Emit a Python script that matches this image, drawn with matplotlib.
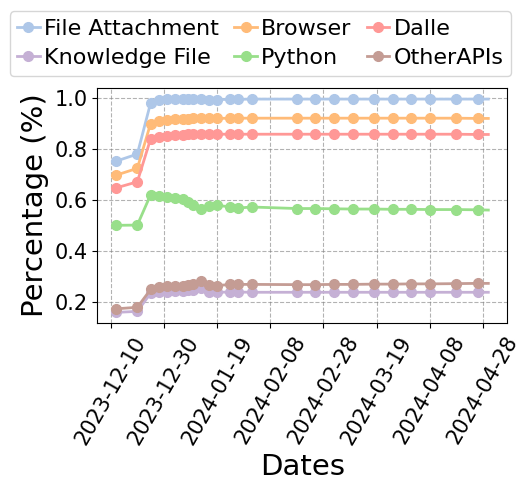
import matplotlib
matplotlib.use("Agg")
import matplotlib.pyplot as plt
import matplotlib.dates as mdates
import pandas as pd

dates = pd.to_datetime([
    "2023-12-12", "2023-12-20", "2023-12-25", "2023-12-28", "2023-12-31",
    "2024-01-03", "2024-01-06", "2024-01-08", "2024-01-10", "2024-01-13",
    "2024-01-16", "2024-01-19", "2024-01-24", "2024-01-27", "2024-02-01",
    "2024-02-18", "2024-02-25", "2024-03-03", "2024-03-10", "2024-03-18",
    "2024-03-25", "2024-04-01", "2024-04-08", "2024-04-18", "2024-04-26",
    "2024-04-30",
])

file_attachment = [0.752, 0.780, 0.981, 0.992, 0.997, 0.998, 0.998, 0.998, 0.997, 0.996,
                   0.993, 0.994, 0.995, 0.995, 0.996, 0.996, 0.996, 0.996, 0.996, 0.996,
                   0.996, 0.996, 0.996, 0.996, 0.996, 0.996]
browser = [0.697, 0.724, 0.900, 0.910, 0.914, 0.917, 0.918, 0.919, 0.920, 0.921,
           0.920, 0.920, 0.921, 0.921, 0.921, 0.921, 0.921, 0.921, 0.921, 0.921,
           0.921, 0.921, 0.921, 0.921, 0.920, 0.920]
dalle = [0.647, 0.671, 0.840, 0.848, 0.852, 0.855, 0.856, 0.857, 0.858, 0.858,
         0.858, 0.858, 0.858, 0.858, 0.858, 0.858, 0.858, 0.858, 0.858, 0.858,
         0.858, 0.858, 0.858, 0.858, 0.857, 0.857]
knowledge_file = [0.158, 0.162, 0.233, 0.238, 0.240, 0.242, 0.243, 0.245, 0.247, 0.252,
                  0.238, 0.237, 0.238, 0.238, 0.237, 0.237, 0.237, 0.237, 0.237, 0.237,
                  0.237, 0.237, 0.237, 0.237, 0.237, 0.237]
python = [0.500, 0.501, 0.620, 0.614, 0.612, 0.608, 0.605, 0.592, 0.579, 0.563,
          0.576, 0.579, 0.572, 0.568, 0.572, 0.566, 0.566, 0.565, 0.564, 0.564,
          0.563, 0.563, 0.562, 0.562, 0.561, 0.560]
other_apis = [0.172, 0.178, 0.248, 0.256, 0.260, 0.262, 0.263, 0.265, 0.270, 0.280,
              0.264, 0.263, 0.268, 0.268, 0.268, 0.267, 0.267, 0.268, 0.268, 0.269,
              0.269, 0.270, 0.270, 0.271, 0.272, 0.272]

series = {
    "File Attachment": file_attachment,
    "Browser": browser,
    "Dalle": dalle,
    "Knowledge File": knowledge_file,
    "Python": python,
    "OtherAPIs": other_apis,
}
colors = ["#aec7e8", "#ffbb78", "#ff9896", "#c5b0d5", "#98df8a", "#c49c94"]

tick_dates = pd.date_range("2023-12-10", periods=8, freq="20D")

fig = plt.figure(figsize=(5.21, 4.91), dpi=100)
ax = fig.add_axes([0.187, 0.342, 0.786, 0.479])

marks = list(range(len(dates) - 1))
lines = []
for (name, vals), c in zip(series.items(), colors):
    ln, = ax.plot(dates, vals, marker="o", color=c, label=name, linewidth=2,
                  markersize=7, markevery=marks)
    lines.append(ln)

ax.set_xticks(tick_dates)
ax.xaxis.set_major_formatter(mdates.DateFormatter("%Y-%m-%d"))
ax.tick_params(axis="x", labelsize=15, rotation=60)
ax.tick_params(axis="y", labelsize=15)
ax.set_yticks([0.2, 0.4, 0.6, 0.8, 1.0])
ax.grid(True, linestyle="--", color="gray", alpha=0.6)
ax.set_xlabel("Dates", fontsize=21)
ax.set_ylabel("Percentage (%)", fontsize=21)

# legend fills column-wise, reorder so rows read like the original
order = [0, 3, 1, 4, 2, 5]
fig.legend([lines[i] for i in order], [lines[i].get_label() for i in order],
           loc="upper center", bbox_to_anchor=(0.5, 1.0), ncol=3, fontsize=16,
           handlelength=1.0, handletextpad=0.2, columnspacing=0.7,
           borderpad=0.35, labelspacing=0.42)

fig.savefig("out.png", dpi=100)
